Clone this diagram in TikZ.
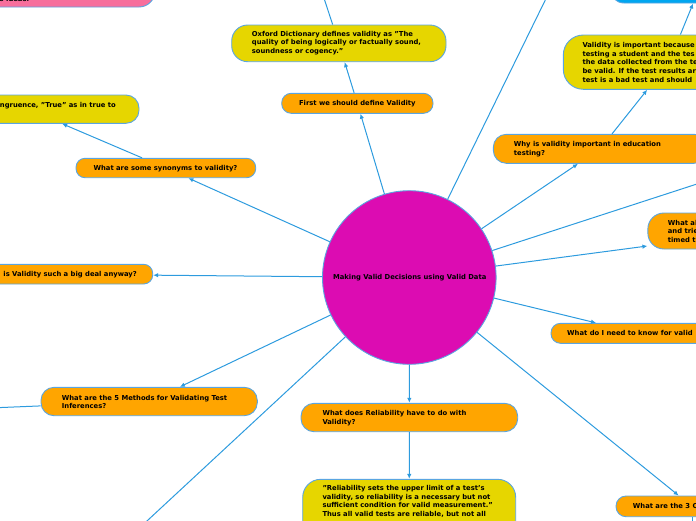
\documentclass[tikz,border=0pt]{standalone}
\usepackage{fontspec}
\setmainfont{DejaVu Sans}
\usetikzlibrary{arrows.meta}
\definecolor{orng}{RGB}{255,165,0}
\definecolor{yell}{RGB}{230,214,0}
\definecolor{pinkc}{RGB}{247,110,156}
\definecolor{magc}{RGB}{220,12,178}
\definecolor{bluec}{RGB}{0,166,240}
\definecolor{bordc}{RGB}{90,165,225}
\definecolor{linec}{RGB}{45,155,222}
\tikzset{
  shp/.style={draw=bordc, line width=0.9pt, inner sep=0pt, rectangle},
  obox/.style={shp, fill=orng},
  ybox/.style={shp, fill=yell},
  txt/.style={inner sep=0pt, align=left, font=\bfseries\fontsize{6.8pt}{8.6pt}\selectfont, text=black},
  conn/.style={draw=linec, line width=1pt},
  arr/.style={conn, -{Latex[length=5pt,width=4.5pt]}}
}
\begin{document}
\begin{tikzpicture}[x=1pt,y=-1pt]
\useasboundingbox (0,0) rectangle (696,520);
\clip (0,0) rectangle (696,520);

% off-screen ends
\coordinate (offA) at (318,-20);
\coordinate (offB) at (560,-30);
\coordinate (offC) at (780,157);
\coordinate (offD) at (120,546);
\coordinate (offE) at (-60,410);
\coordinate (offF) at (692,560);

% nodes
\node[shp, fill=pinkc, minimum width=355pt, minimum height=47pt, rounded corners=16pt] (pink) at (-22.5,-16.5) {};
\node[txt, anchor=west] (pink-t) at (-1,-1.5) {e ideas.};

\node[shp, fill=bluec, minimum width=180pt, minimum height=33pt, rounded corners=14pt] (blue) at (700,-13.5) {};

\node[ybox, minimum width=214.3pt, minimum height=36.7pt, rounded corners=16pt] (oxford) at (338.85,43.35) {};
\node[txt, anchor=west] (oxford-t) at (251.7,43) {Oxford Dictionary defines validity as "The\\quality of being logically or factually sound,\\soundness or cogency."};

\node[obox, minimum width=151.3pt, minimum height=20pt, rounded corners=9.5pt] (first) at (357.35,103.3) {};
\node[txt] (first-t) at (357.35,103.3) {First we should define Validity};

\node[ybox, minimum width=211.7pt, minimum height=54.3pt, rounded corners=20pt] (vimp) at (669.15,62.15) {};
\node[txt, anchor=west] (vimp-t) at (582.3,62.3) {Validity is important because\\testing a student and the tes\\the data collected from the te\\be valid. If the test results ar\\test is a bad test and should};

\node[obox, minimum width=213.7pt, minimum height=29pt, rounded corners=13pt] (why) at (600.15,148.8) {};
\node[txt, anchor=west] (why-t) at (513.7,149.4) {Why is validity important in education\\testing?};

\node[ybox, minimum width=222pt, minimum height=28.3pt, rounded corners=13pt] (cong) at (28,109.15) {};
\node[txt, anchor=east] (cong-t) at (116,106) {ngruence, "True" as in true to};

\node[obox, minimum width=179.7pt, minimum height=19.4pt, rounded corners=9pt] (syn) at (165.85,168) {};
\node[txt] (syn-t) at (165.5,168.3) {What are some synonyms to validity?};

\node[obox, minimum width=222.7pt, minimum height=19.7pt, rounded corners=9pt] (big) at (41.35,274.15) {};
\node[txt, anchor=east] (big-t) at (137,274.7) {is Validity such a big deal anyway?};

\node[circle, draw=bordc, line width=0.9pt, fill=magc, minimum size=173.6pt, inner sep=0pt] (circ) at (409.3,277.5) {};
\node[txt] (circ-t) at (409.7,277.7) {Making Valid Decisions using Valid Data};

\node[obox, minimum width=226.3pt, minimum height=36pt, rounded corners=16pt] (whatal) at (761,231) {};
\node[txt, anchor=west] (whatal-t) at (667.7,231.2) {What al\\and trie\\timed t};

\node[obox, minimum width=176pt, minimum height=20pt, rounded corners=9.5pt] (need) at (639,333.3) {};
\node[txt, anchor=west] (need-t) at (567,333.3) {What do I need to know for valid};

\node[obox, minimum width=216.3pt, minimum height=28.4pt, rounded corners=13pt] (meth) at (149.15,401.5) {};
\node[txt, anchor=west] (meth-t) at (61.7,401.8) {What are the 5 Methods for Validating Test\\Inferences?};

\node[obox, minimum width=216.7pt, minimum height=28.4pt, rounded corners=13pt] (rel) at (409.35,417.5) {};
\node[txt, anchor=west] (rel-t) at (322.3,417.9) {What does Reliability have to do with\\Validity?};

\node[ybox, minimum width=213pt, minimum height=65.7pt, rounded corners=18pt] (relq) at (409.2,512.15) {};
\node[txt, anchor=north west] (relq-t) at (322.3,485.3) {"Reliability sets the upper limit of a test's\\validity, so reliability is a necessary but not\\sufficient condition for valid measurement."\\Thus all valid tests are reliable, but not all};

\node[obox, minimum width=152pt, minimum height=20.7pt, rounded corners=10pt] (threec) at (692,506.35) {};
\node[txt, anchor=west] (threec-t) at (632.7,506) {What are the 3 C};

% connectors
\draw[conn] (oxford) -- (offA);
\draw[conn] (circ) -- (offB);
\draw[conn] (circ) -- (offC);
\draw[conn] (circ) -- (offD);
\draw[conn] (meth) -- (offE);
\draw[conn] (threec) -- (offF);

\draw[arr] (circ) -- (first);
\draw[arr] (first) -- (oxford);
\draw[arr] (circ) -- (syn);
\draw[arr] (syn) -- (cong);
\draw[arr] (circ) -- (big);
\draw[arr] (circ) -- (meth);
\draw[arr] (circ) -- (rel);
\draw[arr] (rel) -- (relq);
\draw[arr] (circ) -- (why);
\draw[arr] (why) -- (vimp);
\draw[arr] (vimp) -- (blue);
\draw[arr] (circ) -- (whatal);
\draw[arr] (circ) -- (need);
\draw[arr] (circ) -- (threec);
\end{tikzpicture}
\end{document}
